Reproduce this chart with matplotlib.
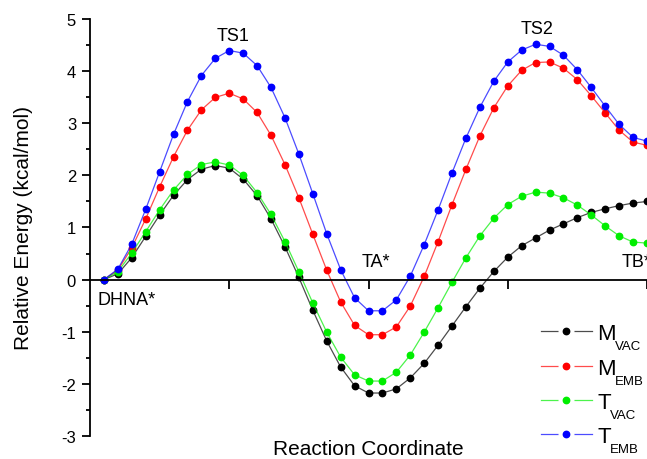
import matplotlib
matplotlib.use("Agg")
import matplotlib.pyplot as plt
from matplotlib.ticker import MultipleLocator
from matplotlib.lines import Line2D
from matplotlib.legend_handler import HandlerTuple

plt.rcParams['font.family'] = ['Liberation Sans', 'DejaVu Sans']
plt.rcParams['axes.unicode_minus'] = False

# Reaction coordinate index of each sampled point
coord = list(range(40))

m_vac = [0, 0.11, 0.42, 0.83, 1.24, 1.62, 1.92, 2.12, 2.19, 2.14,
         1.93, 1.61, 1.165, 0.63, 0.04, -0.59, -1.18, -1.68, -2.04, -2.18,
         -2.18, -2.10, -1.89, -1.61, -1.26, -0.89, -0.52, -0.165, 0.155, 0.43,
         0.65, 0.80, 0.95, 1.07, 1.19, 1.29, 1.36, 1.42, 1.47, 1.50]
m_emb = [0, 0.18, 0.61, 1.165, 1.78, 2.36, 2.87, 3.26, 3.50, 3.58,
         3.47, 3.21, 2.77, 2.21, 1.57, 0.87, 0.18, -0.43, -0.88, -1.06,
         -1.06, -0.91, -0.51, 0.06, 0.73, 1.44, 2.12, 2.76, 3.30, 3.72,
         4.02, 4.17, 4.18, 4.06, 3.84, 3.53, 3.20, 2.87, 2.64, 2.58]
t_vac = [0, 0.15, 0.51, 0.92, 1.34, 1.72, 2.02, 2.21, 2.26, 2.20,
         2.00, 1.67, 1.25, 0.73, 0.15, -0.45, -1.01, -1.49, -1.83, -1.95,
         -1.95, -1.78, -1.45, -1.01, -0.54, -0.05, 0.42, 0.84, 1.18, 1.44,
         1.60, 1.68, 1.66, 1.57, 1.43, 1.24, 1.03, 0.84, 0.72, 0.70]
t_emb = [0, 0.20, 0.68, 1.35, 2.07, 2.79, 3.42, 3.92, 4.25, 4.40,
         4.35, 4.11, 3.69, 3.11, 2.41, 1.65, 0.88, 0.19, -0.35, -0.60,
         -0.60, -0.39, 0.065, 0.67, 1.34, 2.05, 2.72, 3.31, 3.81, 4.18,
         4.41, 4.52, 4.48, 4.31, 4.03, 3.69, 3.33, 2.98, 2.73, 2.66]

series_main = ['M', 'M', 'T', 'T']
series_sub = ['VAC', 'EMB', 'VAC', 'EMB']
series_colors = ['black', 'red', '#00ee00', 'blue']

stationary_ticks = [9, 19, 29, 39]
point_names = ['DHNA*', 'TS1', 'TA*', 'TS2', 'TB*']
point_x = [1.65, 9.26, 19.5, 31.08, 37.2]
point_y = [-0.38, 4.68, 0.34, 4.83, 0.34]
point_ha = ['center', 'center', 'center', 'center', 'left']

fig = plt.figure(figsize=(6.47, 4.60), dpi=100)
ax = fig.add_axes([90 / 647, 1 - 436.7 / 460, 557 / 647, (436.7 - 20.3) / 460])

handles = []
for ys, col in zip([m_vac, m_emb, t_vac, t_emb], series_colors):
    ax.plot(coord, ys, '-', color=col, lw=0.9, alpha=0.7)
    ax.plot(coord, ys, 'o', color=col, ms=4.6, mec=col)
    h_line = Line2D([], [], color=col, lw=0.9, alpha=0.7)
    h_gap = Line2D([], [], ls='none', marker='o', ms=10.5, mfc='white', mec='white')
    h_mark = Line2D([], [], ls='none', marker='o', ms=4.6, color=col)
    handles.append((h_line, h_gap, h_mark))

ax.set_xlim(-1, 39)
ax.set_ylim(-3, 5)

ax.spines['top'].set_visible(False)
ax.spines['right'].set_visible(False)
ax.spines['bottom'].set_position(('data', 0))
ax.spines['left'].set_linewidth(1.3)
ax.spines['bottom'].set_linewidth(1.3)

ax.set_xticks(stationary_ticks)
ax.set_xticklabels([])
ax.tick_params(axis='x', direction='out', length=6.5, width=1.3)
ax.yaxis.set_major_locator(MultipleLocator(1))
ax.yaxis.set_minor_locator(MultipleLocator(0.5))
ax.tick_params(axis='y', which='major', direction='out', length=6, width=1.3,
               labelsize=12, pad=4)
ax.tick_params(axis='y', which='minor', direction='out', length=3, width=1.3)

for name, x, y, ha in zip(point_names, point_x, point_y, point_ha):
    ax.text(x, y, name, ha=ha, va='center', fontsize=13, clip_on=False)

ax.set_ylabel('Relative Energy (kcal/mol)', fontsize=15, va='center')
ax.yaxis.set_label_coords(-0.1185, 0.5)
ax.set_xlabel('Reaction Coordinate', fontsize=15, va='top')
ax.xaxis.set_label_coords(0.5, -0.008)

leg = ax.legend(handles, series_main,
                handler_map={tuple: HandlerTuple(ndivide=1, pad=0)},
                loc='upper left', bbox_to_anchor=(0.809, 0.27), frameon=False,
                fontsize=16, handlelength=2.3, handletextpad=0.25,
                labelspacing=0.6, borderpad=0, borderaxespad=0)

fig.canvas.draw()
for txt, sub in zip(leg.get_texts(), series_sub):
    ax.annotate(sub, xy=(1, 0), xycoords=txt, xytext=(-0.5, -3.6),
                textcoords='offset points', ha='left', va='baseline',
                fontsize=9.5, annotation_clip=False)

fig.savefig('out.png', dpi=100)
